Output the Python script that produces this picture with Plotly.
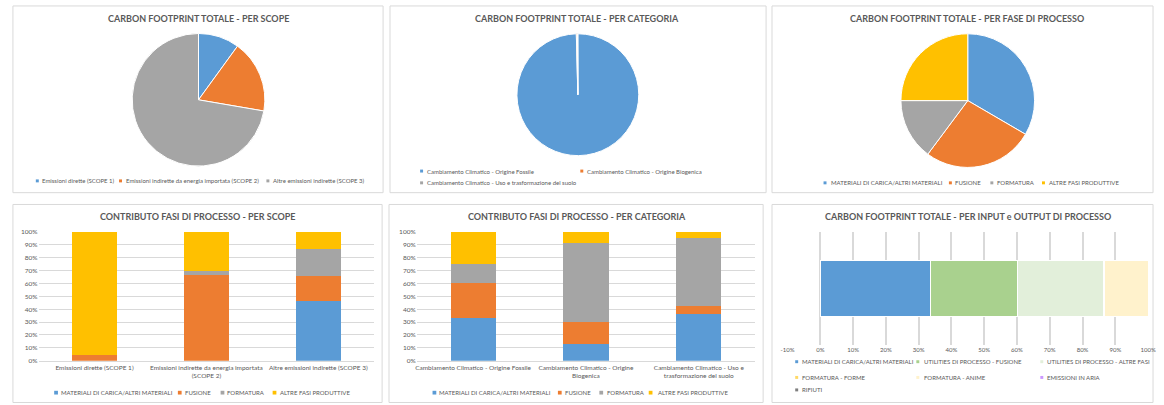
import plotly.graph_objects as go

W, H = 1164, 405
FONT = "Lato"
TXT = "#595959"
GRID = "#D9D9D9"

# ---------------- data ----------------
scope_names = ["Emissioni dirette (SCOPE 1)",
               "Emissioni indirette da energia importata (SCOPE 2)",
               "Altre emissioni indirette (SCOPE 3)"]
scope_ticks = ["Emissioni dirette (SCOPE 1)",
               "Emissioni indirette da energia importata<br>(SCOPE 2)",
               "Altre emissioni indirette (SCOPE 3)"]
scope_share = [10.0, 17.7, 72.3]
scope_colors = ["#5B9BD5", "#ED7D31", "#A5A5A5"]

cat_names = ["Cambiamento Climatico - Origine Fossile",
             "Cambiamento Climatico - Origine Biogenica",
             "Cambiamento Climatico - Uso e trasformazione del suolo"]
cat_ticks = ["Cambiamento Climatico - Origine Fossile",
             "Cambiamento Climatico - Origine<br>Biogenica",
             "Cambiamento Climatico - Uso e<br>trasformazione del suolo"]
cat_share = [99.6, 0.3, 0.1]
cat_colors = ["#5B9BD5", "#ED7D31", "#A5A5A5"]

phase_names = ["MATERIALI DI CARICA/ALTRI MATERIALI", "FUSIONE", "FORMATURA", "ALTRE FASI PRODUTTIVE"]
phase_colors = ["#5B9BD5", "#ED7D31", "#A5A5A5", "#FFC000"]
phase_share = [33.4, 26.8, 14.8, 25.0]

# contribution of phases per scope (%), one list per phase, order = scopes
scope_materiali = [0.0, 0.0, 46.3]
scope_fusione = [4.1, 66.7, 19.9]
scope_formatura = [0.0, 3.0, 20.3]
scope_altre = [95.9, 30.3, 13.5]

# contribution of phases per category (%)
cat_materiali = [33.5, 12.7, 36.0]
cat_fusione = [26.7, 17.0, 6.6]
cat_formatura = [14.7, 61.7, 52.8]
cat_altre = [25.1, 8.6, 4.6]

io_names = ["MATERIALI DI CARICA/ALTRI MATERIALI", "UTILITIES DI PROCESSO - FUSIONE",
            "UTILITIES DI PROCESSO - ALTRE FASI", "FORMATURA - FORME", "FORMATURA - ANIME",
            "EMISSIONI IN ARIA", "RIFIUTI"]
io_values = [33.5, 26.7, 26.2, 0.3, 13.3, 0.0, 0.0]
io_colors = ["#5B9BD5", "#A9D18E", "#E2EFDA", "#FFD966", "#FFF2CC", "#CC99FF", "#7F7F7F"]
io_ticks = [-10, 0, 10, 20, 30, 40, 50, 60, 70, 80, 90, 100]
pct_ticks = [0, 10, 20, 30, 40, 50, 60, 70, 80, 90, 100]


def px(x):
    return x / W


def py(y):
    return 1 - y / H


fig = go.Figure()

# ---------------- pies ----------------
def add_pie(labels, values, colors, cx, cy, r):
    fig.add_trace(go.Pie(
        labels=labels, values=values, sort=False, direction="clockwise", rotation=0,
        marker=dict(colors=colors, line=dict(color="white", width=1)),
        textinfo="none", showlegend=False,
        domain=dict(x=[px(cx - r), px(cx + r)], y=[py(cy + r), py(cy - r)]),
    ))

add_pie(scope_names, scope_share, scope_colors, 194, 97.5, 67.5)
add_pie(cat_names, cat_share, cat_colors, 578.3, 92.3, 62)
add_pie(phase_names, phase_share, phase_colors, 973.3, 98.3, 68)

# ---------------- stacked bars ----------------
scope_series = [scope_materiali, scope_fusione, scope_formatura, scope_altre]
for name, vals, col in zip(phase_names, scope_series, phase_colors):
    fig.add_trace(go.Bar(x=scope_names, y=vals, name=name, marker_color=col,
                         marker_line_width=0, width=0.4, xaxis="x", yaxis="y", showlegend=False))

cat_series = [cat_materiali, cat_fusione, cat_formatura, cat_altre]
for name, vals, col in zip(phase_names, cat_series, phase_colors):
    fig.add_trace(go.Bar(x=cat_names, y=vals, name=name, marker_color=col,
                         marker_line_width=0, width=0.4, xaxis="x2", yaxis="y2", showlegend=False))

for name, val, col in zip(io_names, io_values, io_colors):
    fig.add_trace(go.Bar(y=["Totale"], x=[val], name=name, orientation="h", marker_color=col,
                         marker_line=dict(color="white", width=1), width=0.5,
                         xaxis="x3", yaxis="y3", showlegend=False))

tickfont = dict(family=FONT, size=6.5, color=TXT)


def yaxis_pct(anchor, y0, y1):
    return dict(domain=[py(y1), py(y0)], range=[0, 100], tickvals=pct_ticks,
                ticktext=[f"{v}%" for v in pct_ticks], showgrid=True, gridcolor=GRID,
                gridwidth=1, zeroline=False, showline=False, tickfont=tickfont,
                anchor=anchor, fixedrange=True)


def xaxis_cat(anchor, x0, x1, names, ticks):
    return dict(domain=[px(x0), px(x1)], type="category", tickvals=names, ticktext=ticks,
                showgrid=False, zeroline=False, showline=True, linecolor=GRID, linewidth=1,
                tickfont=tickfont, anchor=anchor, fixedrange=True)


fig.update_layout(
    xaxis=xaxis_cat("y", 32, 372, scope_names, scope_ticks),
    yaxis=yaxis_pct("x", 232, 363),
    xaxis2=xaxis_cat("y2", 415, 758, cat_names, cat_ticks),
    yaxis2=yaxis_pct("x2", 232, 363),
    xaxis3=dict(domain=[px(790.7), px(1156)], range=[-10, 100], tickvals=io_ticks,
                ticktext=[f"{v}%" for v in io_ticks], showgrid=True, gridcolor=GRID, gridwidth=1.5,
                zeroline=False, showline=False, tickfont=dict(family=FONT, size=6, color=TXT),
                anchor="y3", fixedrange=True),
    yaxis3=dict(domain=[py(347), py(232)], showticklabels=False, showgrid=False,
                zeroline=False, showline=False, anchor="x3", fixedrange=True),
)

# ---------------- panel frames ----------------
frames = [(6, 2, 381, 192), (388, 2, 769, 192), (775, 2, 1161, 192),
          (6, 204, 380, 405.5), (387, 204, 766, 405.5), (775, 204, 1161, 405.5)]
shapes = []
for x0, y0, x1, y1 in frames:
    shapes.append(dict(type="rect", xref="paper", yref="paper", x0=px(x0), x1=px(x1),
                       y0=py(y1), y1=py(y0), line=dict(color=GRID, width=1),
                       fillcolor="rgba(0,0,0,0)", layer="below"))

# ---------------- titles ----------------
titles = [("CARBON FOOTPRINT TOTALE - PER SCOPE", 193.8, 15),
          ("CARBON FOOTPRINT TOTALE - PER CATEGORIA", 577.8, 15),
          ("CARBON FOOTPRINT TOTALE - PER FASE DI PROCESSO", 972.8, 15),
          ("CONTRIBUTO FASI DI PROCESSO - PER SCOPE", 193, 216.7),
          ("CONTRIBUTO FASI DI PROCESSO - PER CATEGORIA", 577, 216.7),
          ("CARBON FOOTPRINT TOTALE - PER INPUT e OUTPUT DI PROCESSO", 974, 216.7)]
annotations = []
for t, x, y in titles:
    annotations.append(dict(text=f"<b>{t}</b>", x=px(x), y=py(y), xref="paper", yref="paper",
                            xanchor="center", yanchor="middle", showarrow=False,
                            font=dict(family=FONT, size=9, color=TXT)))


# ---------------- legends (marker square + label) ----------------
def legend_items(names, colors, markers_x, texts_x, rows_y, size):
    for n, c, mx, tx, y in zip(names, colors, markers_x, texts_x, rows_y):
        h = size / 2
        shapes.append(dict(type="rect", xref="paper", yref="paper",
                           x0=px(mx - h), x1=px(mx + h), y0=py(y + h), y1=py(y - h),
                           fillcolor=c, line=dict(width=0)))
        annotations.append(dict(text=n, x=px(tx), y=py(y), xref="paper", yref="paper",
                                xanchor="left", yanchor="middle", showarrow=False,
                                font=dict(family=FONT, size=6, color=TXT)))


legend_items(scope_names, scope_colors, [30.7, 115, 264.3], [33.3, 118.3, 267.7],
             [180, 180, 180], 3)
legend_items(cat_names, cat_colors, [420, 582.3, 420], [423.3, 586, 423.3],
             [170, 170, 182], 3)
legend_items(phase_names, phase_colors, [828.7, 955.7, 997.7, 1050],
             [832.3, 958.7, 1000.7, 1053.3], [182] * 4, 3)
legend_items(phase_names, phase_colors, [49.7, 175, 218.3, 271], [52.5, 178, 221, 274.5],
             [395.5] * 4, 3.8)
legend_items(phase_names, phase_colors, [433, 560, 602, 652], [436, 563.3, 605.7, 657],
             [395.5] * 4, 3.8)
legend_items(io_names, io_colors,
             [800, 922.7, 1048.3, 800, 922.7, 1048.3, 800],
             [803.3, 926.7, 1051.7, 803.3, 926.7, 1051.7, 803.3],
             [364, 364, 364, 380, 380, 380, 392.7], 3)

fig.update_layout(
    width=W, height=H, margin=dict(l=0, r=0, t=0, b=0),
    paper_bgcolor="white", plot_bgcolor="white",
    barmode="stack", showlegend=False,
    shapes=shapes, annotations=annotations,
    font=dict(family=FONT, color=TXT),
)

fig.write_html("out.html", config={"displayModeBar": False},
               post_script="document.body.style.margin='0';")
